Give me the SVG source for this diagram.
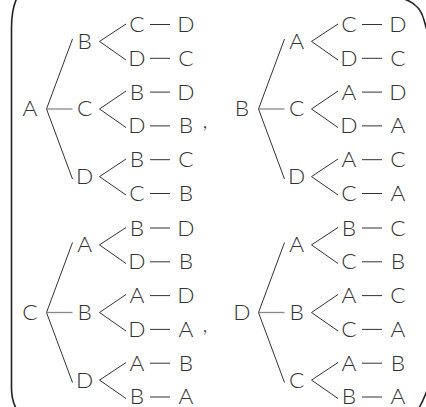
<svg xmlns="http://www.w3.org/2000/svg" width="426" height="407" viewBox="0 0 426 407">
<style>
text{font-family:Lato,"Liberation Sans",Arial,sans-serif;font-weight:300;font-size:21px;fill:#333;text-anchor:middle;transform-box:fill-box;transform-origin:center;transform:scaleX(1.08)}
.ln{stroke:#333;stroke-width:1;fill:none}
.h{stroke:#888;stroke-width:1.3;fill:none}
.br{stroke:#222;stroke-width:1.6;fill:none}
</style>
<defs>
<g id="skel">
<path class="ln" d="M46.5,84.5 L72.5,14.5 M46.5,84.5 L72.5,154.5"/>
<path class="h" d="M46.5,84.5 H72.5"/>
<path class="ln" d="M126,-0.5 L99.5,16.9 L126,35.5 M126,66.5 L99.5,84.5 L126,103 M126,134.5 L99.5,152.1 L126,170.5"/>
<path class="ln" d="M150,0 H170 M150,33.8 H170 M150,67.6 H170 M150,101.4 H170 M150,135.2 H170 M150,169 H170"/>
</g>
</defs>
<g id="brackets">
<path class="br" d="M16.5,-1 Q11.5,10 11.5,28 V388 Q11.5,400 16,408"/>
<path class="br" d="M404,-1 Q420,4 424,20 L428,34"/>
<path class="br" d="M419,408 Q423,401 428,388"/>
</g>
<g id="connectors">
<use href="#skel" transform="translate(0,24.5)"/>
<use href="#skel" transform="translate(212,24.5)"/>
<use href="#skel" transform="translate(0,228)"/>
<use href="#skel" transform="translate(212,228)"/>
</g>
<g id="tree1" transform="translate(0,24.5)">
<g id="t1-A"><text x="30" y="92">A</text></g>
<g id="t1-B"><text x="84.7" y="24.4">B</text></g>
<g id="t1-C"><text x="84.7" y="92">C</text></g>
<g id="t1-D"><text x="84.7" y="159.6">D</text></g>
<g id="t1-l1"><text x="137" y="7.5">C</text><text x="186" y="7.5">D</text></g>
<g id="t1-l2"><text x="137" y="41.3">D</text><text x="186" y="41.3">C</text></g>
<g id="t1-l3"><text x="137" y="75.1">B</text><text x="186" y="75.1">D</text></g>
<g id="t1-l4"><text x="137" y="108.9">D</text><text x="186" y="108.9">B</text></g>
<g id="t1-l5"><text x="137" y="142.7">B</text><text x="186" y="142.7">C</text></g>
<g id="t1-l6"><text x="137" y="176.5">C</text><text x="186" y="176.5">B</text></g>
<text x="205" y="104">,</text>
</g>
<g id="tree2" transform="translate(212,24.5)">
<g id="t2-B"><text x="30" y="92">B</text></g>
<g id="t2-A"><text x="84.7" y="24.4">A</text></g>
<g id="t2-C"><text x="84.7" y="92">C</text></g>
<g id="t2-D"><text x="84.7" y="159.6">D</text></g>
<g id="t2-l1"><text x="137" y="7.5">C</text><text x="186" y="7.5">D</text></g>
<g id="t2-l2"><text x="137" y="41.3">D</text><text x="186" y="41.3">C</text></g>
<g id="t2-l3"><text x="137" y="75.1">A</text><text x="186" y="75.1">D</text></g>
<g id="t2-l4"><text x="137" y="108.9">D</text><text x="186" y="108.9">A</text></g>
<g id="t2-l5"><text x="137" y="142.7">A</text><text x="186" y="142.7">C</text></g>
<g id="t2-l6"><text x="137" y="176.5">C</text><text x="186" y="176.5">A</text></g>
</g>
<g id="tree3" transform="translate(0,228)">
<g id="t3-C"><text x="30" y="92">C</text></g>
<g id="t3-A"><text x="84.7" y="24.4">A</text></g>
<g id="t3-B"><text x="84.7" y="92">B</text></g>
<g id="t3-D"><text x="84.7" y="159.6">D</text></g>
<g id="t3-l1"><text x="137" y="7.5">B</text><text x="186" y="7.5">D</text></g>
<g id="t3-l2"><text x="137" y="41.3">D</text><text x="186" y="41.3">B</text></g>
<g id="t3-l3"><text x="137" y="75.1">A</text><text x="186" y="75.1">D</text></g>
<g id="t3-l4"><text x="137" y="108.9">D</text><text x="186" y="108.9">A</text></g>
<g id="t3-l5"><text x="137" y="142.7">A</text><text x="186" y="142.7">B</text></g>
<g id="t3-l6"><text x="137" y="176.5">B</text><text x="186" y="176.5">A</text></g>
<text x="205" y="104">,</text>
</g>
<g id="tree4" transform="translate(212,228)">
<g id="t4-D"><text x="30" y="92">D</text></g>
<g id="t4-A"><text x="84.7" y="24.4">A</text></g>
<g id="t4-B"><text x="84.7" y="92">B</text></g>
<g id="t4-C"><text x="84.7" y="159.6">C</text></g>
<g id="t4-l1"><text x="137" y="7.5">B</text><text x="186" y="7.5">C</text></g>
<g id="t4-l2"><text x="137" y="41.3">C</text><text x="186" y="41.3">B</text></g>
<g id="t4-l3"><text x="137" y="75.1">A</text><text x="186" y="75.1">C</text></g>
<g id="t4-l4"><text x="137" y="108.9">C</text><text x="186" y="108.9">A</text></g>
<g id="t4-l5"><text x="137" y="142.7">A</text><text x="186" y="142.7">B</text></g>
<g id="t4-l6"><text x="137" y="176.5">B</text><text x="186" y="176.5">A</text></g>
</g>
</svg>
